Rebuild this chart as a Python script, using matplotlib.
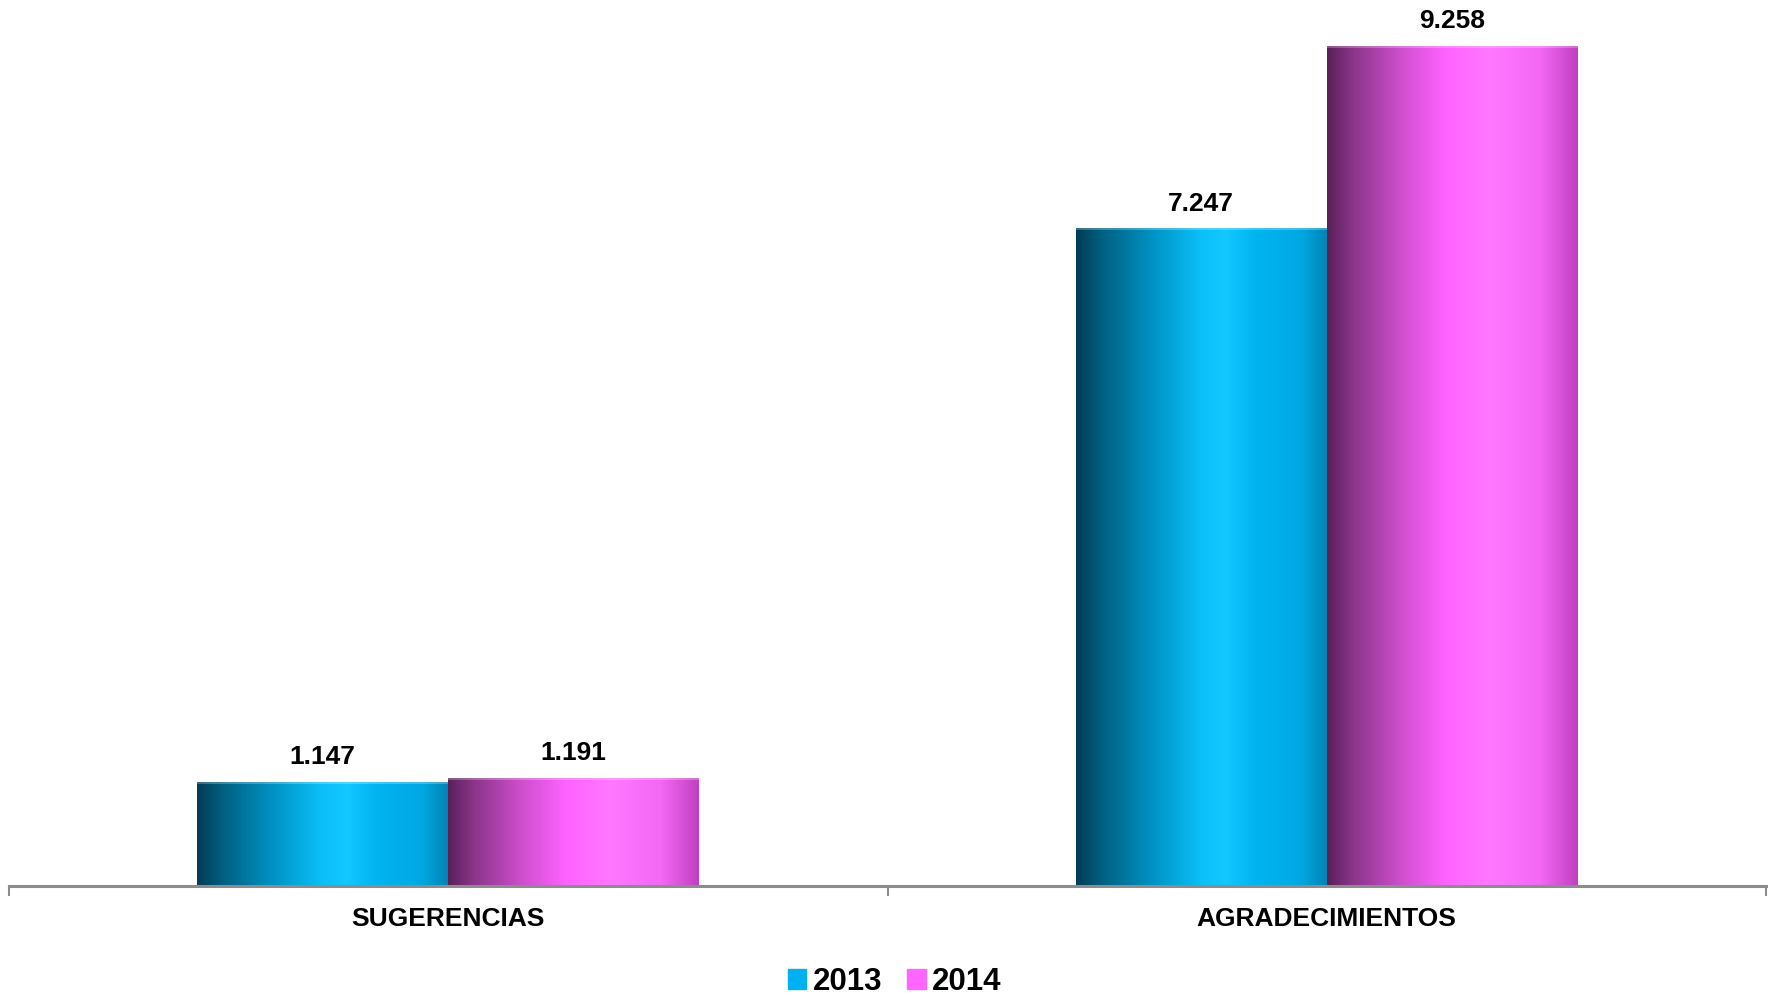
import matplotlib
matplotlib.use("Agg")
import matplotlib.pyplot as plt
import numpy as np
from matplotlib.colors import LinearSegmentedColormap
from matplotlib.patches import Patch, Rectangle

categories = ["SUGERENCIAS", "AGRADECIMIENTOS"]
years = ["2013", "2014"]
values_2013 = [1147, 7247]
values_2014 = [1191, 9258]
labels_2013 = ["1.147", "7.247"]
labels_2014 = ["1.191", "9.258"]

plt.rcParams['font.family'] = ['Liberation Sans', 'DejaVu Sans']

W, H = 1775, 996
fig = plt.figure(figsize=(W / 100, H / 100), dpi=100)
ax = fig.add_axes([9 / W, (H - 886) / H, 1757 / W, 886 / H])
ax.set_xlim(-0.5, 1.5)
ax.set_ylim(0, 9760)

blue_cmap = LinearSegmentedColormap.from_list("b", [
    (0.0, "#003c55"), (0.1, "#005f80"), (0.3, "#0092c4"),
    (0.5, "#0bc0f8"), (0.6, "#12c8ff"), (0.72, "#00b4f0"),
    (0.9, "#00a8e2"), (1.0, "#0084b4")])
pink_cmap = LinearSegmentedColormap.from_list("p", [
    (0.0, "#5a2058"), (0.1, "#8a3488"), (0.3, "#d050d0"),
    (0.47, "#ff62ff"), (0.65, "#ff78ff"), (0.85, "#f468f4"),
    (1.0, "#c040c0")])

width = 0.2856
x = np.arange(len(categories))
grad = np.linspace(0, 1, 256).reshape(1, -1)

for vals, labs, cmap, off in [(values_2013, labels_2013, blue_cmap, -width / 2),
                              (values_2014, labels_2014, pink_cmap, width / 2)]:
    bars = ax.bar(x + off, vals, width, color="none", edgecolor="none", zorder=2)
    for b, lab in zip(bars, labs):
        x0, y0 = b.get_x(), b.get_y()
        w, h = b.get_width(), b.get_height()
        im = ax.imshow(grad, cmap=cmap, aspect="auto", extent=[x0, x0 + w, y0, y0 + h],
                       interpolation="bilinear", zorder=2)
        im.set_clip_path(b)
        ax.add_patch(Rectangle((x0, y0 + h - 25), w, 25, color="white", alpha=0.25,
                               lw=0, zorder=3))
        ax.annotate(lab, (x0 + w / 2, y0 + h), xytext=(0, 9), textcoords="offset points",
                    ha="center", va="bottom", fontsize=19, fontweight="bold", color="black")

ax.set_autoscale_on(False)
for s in ["top", "right", "left"]:
    ax.spines[s].set_visible(False)
ax.spines["bottom"].set_color("#8c8c8c")
ax.spines["bottom"].set_linewidth(2.2)
ax.set_yticks([])
ax.set_xticks([-0.5, 0.5, 1.5])
ax.set_xticklabels([])
ax.tick_params(axis="x", which="major", length=7, width=1.5, color="#8c8c8c", direction="out")
ax.set_xticks(x, minor=True)
ax.set_xticklabels(categories, minor=True, fontsize=19, fontweight="bold")
ax.tick_params(axis="x", which="minor", length=0, pad=15)

handles = [Patch(color="#00b0f0", label=years[0]), Patch(color="#ff66ff", label=years[1])]
fig.legend(handles=handles, loc="center", bbox_to_anchor=(0.504, (H - 982) / H), ncol=2,
           frameon=False, prop={"size": 22.5, "weight": "bold"}, handlelength=0.6,
           handleheight=0.6, handletextpad=0.2, columnspacing=0.8,
           borderpad=0, borderaxespad=0)

fig.savefig("out.png", dpi=100)
